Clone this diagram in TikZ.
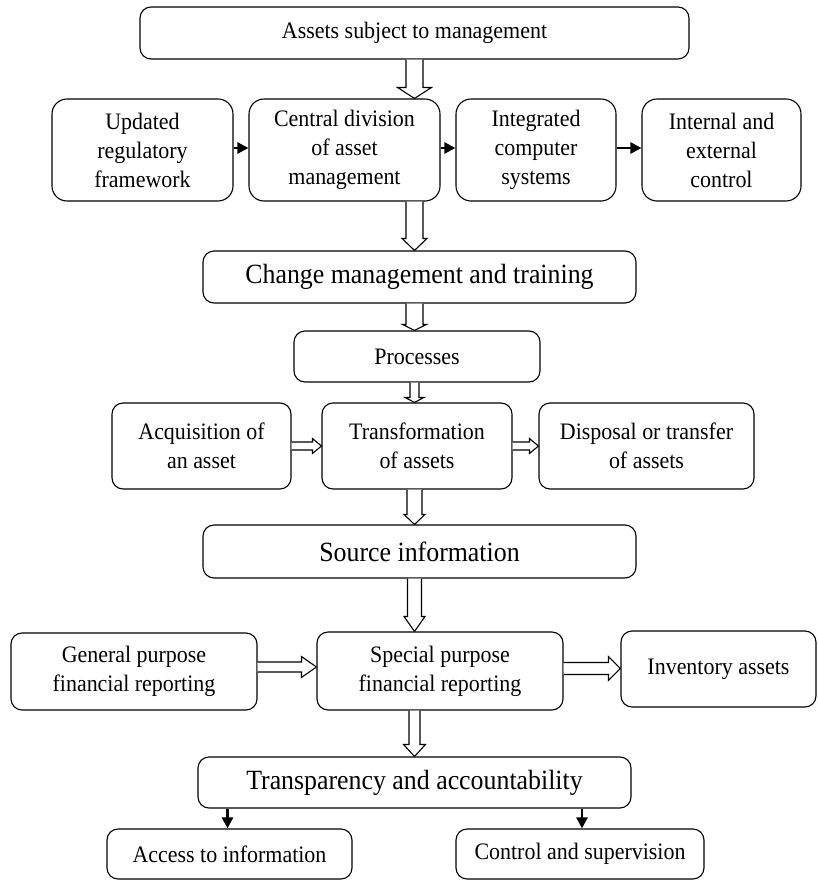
\documentclass[tikz,border=0pt]{standalone}
\usepackage{fontspec}
\setmainfont{Liberation Serif}[FakeStretch=0.93]
\usetikzlibrary{calc,arrows.meta}
\tikzset{
  box/.style={draw, line width=1.1pt, rounded corners=11pt, inner sep=0pt, align=center,
    font=\fontsize{23.6}{29}\selectfont},
  bigbox/.style={box, font=\fontsize{27.8}{32}\selectfont},
  blk/.style={draw, line width=1.1pt, fill=white, line join=miter},
  solidarrow/.style={line width=2.4pt, -{Triangle[length=11pt,width=11pt]}},
}
% vertical hollow block arrow: from (#1) down to the level of (#2)
\newcommand\vblock[5]{\draw[blk] let \p1=(#1), \p2=(#2) in
  (\x1-#3,\y1) -- (\x1-#3,\y2+#5) -- (\x1-#4,\y2+#5) -- (\x1,\y2) --
  (\x1+#4,\y2+#5) -- (\x1+#3,\y2+#5) -- (\x1+#3,\y1);}
% horizontal hollow block arrow: from (#1) right to the x of (#2)
\newcommand\hblock[5]{\draw[blk] let \p1=(#1), \p2=(#2) in
  (\x1,\y1+#3) -- (\x2-#5,\y1+#3) -- (\x2-#5,\y1+#4) -- (\x2,\y1) --
  (\x2-#5,\y1-#4) -- (\x2-#5,\y1-#3) -- (\x1,\y1-#3);}
\begin{document}
\begin{tikzpicture}[x=1pt,y=-1pt]
\useasboundingbox (0,0) rectangle (818,881);

\node[box, minimum width=549pt, minimum height=52pt] (top) at (414.5,33) {Assets subject to management};

\node[box, rounded corners=15pt, minimum width=181pt, minimum height=102pt] (upd) at (142.5,150) {Updated\\regulatory\\framework};
\node[box, rounded corners=15pt, minimum width=191pt, minimum height=102pt] (central) at (344.5,150) {Central division\\of asset\\management};
\node[box, rounded corners=15pt, minimum width=160pt, minimum height=102pt] (integ) at (536,150) {Integrated\\computer\\systems};
\node[box, rounded corners=15pt, minimum width=159pt, minimum height=102pt] (intern) at (721.5,150) {Internal and\\external\\control};

\node[bigbox, minimum width=433pt, minimum height=52pt] (change) at (419.5,277) {Change management and training};
\node[box, minimum width=246pt, minimum height=51pt] (proc) at (417,356.5) {Processes};

\node[box, minimum width=179pt, minimum height=86pt] (acq) at (201.5,446) {Acquisition of\\an asset};
\node[box, minimum width=190pt, minimum height=86pt] (trans) at (417,446) {Transformation\\of assets};
\node[box, minimum width=215pt, minimum height=86pt] (disp) at (646.5,446) {Disposal or transfer\\of assets};

\node[bigbox, minimum width=433pt, minimum height=53pt] (source) at (419.5,551.5) {Source information};

\node[box, minimum width=246pt, minimum height=77pt] (gen) at (134,671.5) {General purpose\\financial reporting};
\node[box, minimum width=246pt, minimum height=78pt] (spec) at (440,671) {Special purpose\\financial reporting};
\node[box, minimum width=195pt, minimum height=76pt] (inv) at (718.5,669) {Inventory assets};

\node[bigbox, minimum width=433pt, minimum height=51pt] (transp) at (414.5,782.5) {Transparency and accountability};

\node[box, minimum width=245pt, minimum height=50pt] (access) at (229.5,854) {Access to information};
\node[box, minimum width=248pt, minimum height=50pt] (control) at (580,854) {Control and supervision};

% vertical hollow arrows
\vblock{top.south}{central.north}{8.5pt}{17pt}{11pt}
\vblock{central.south -| top.south}{change.north}{8.5pt}{12.5pt}{12pt}
\vblock{change.south -| top.south}{proc.north}{8.5pt}{12pt}{6pt}
\vblock{proc.south -| top.south}{trans.north}{4.5pt}{9.5pt}{5pt}
\vblock{trans.south -| top.south}{source.north}{7.5pt}{10.5pt}{10pt}
\vblock{source.south -| top.south}{spec.north}{7pt}{10.5pt}{15pt}
\vblock{spec.south -| top.south}{transp.north}{5.5pt}{11pt}{12pt}

% horizontal hollow arrows
\hblock{acq.east}{trans.west}{4pt}{7.5pt}{9pt}
\hblock{trans.east}{disp.west}{4pt}{7.5pt}{9pt}
\hblock{$(gen.east)+(0,-4.5)$}{spec.west}{5pt}{10.5pt}{15pt}
\hblock{$(spec.east)+(0,-2.5)$}{inv.west}{6pt}{12pt}{12pt}

% solid arrows
\draw[solidarrow] ($(upd.east)+(0,-2)$) -- ($(central.west)+(0,-2)$);
\draw[solidarrow] ($(central.east)+(0,-2)$) -- ($(integ.west)+(0,-2)$);
\draw[solidarrow] ($(integ.east)+(0,-2)$) -- ($(intern.west)+(0,-2)$);
\draw[solidarrow] ($(transp.south -| access.north)+(-2,0)$) -- ($(access.north)+(-2,0)$);
\draw[solidarrow] ($(transp.south -| control.north)+(2,0)$) -- ($(control.north)+(2,0)$);
\end{tikzpicture}
\end{document}
